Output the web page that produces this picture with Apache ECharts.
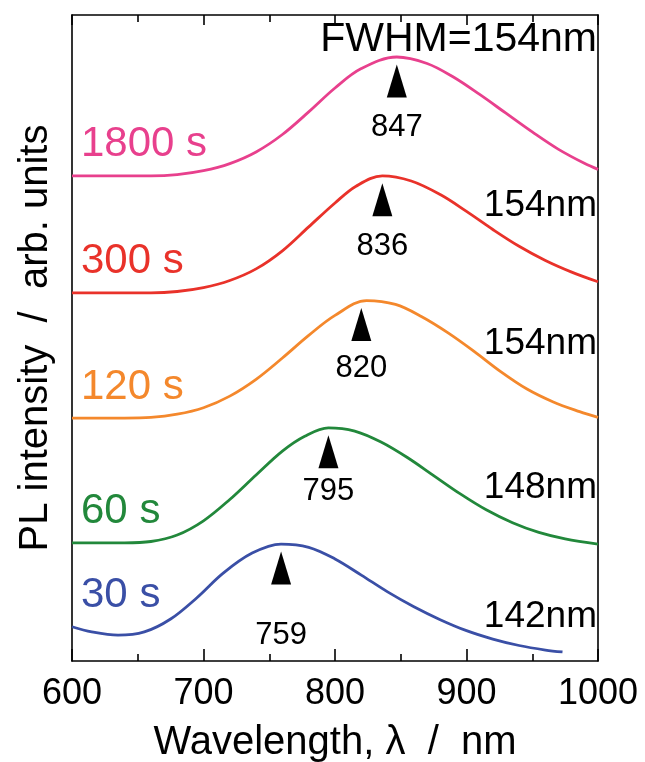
<!DOCTYPE html>
<html>
<head>
<meta charset="utf-8">
<script src="https://cdn.jsdelivr.net/npm/echarts@6/dist/echarts.min.js"></script>
<style>
  html, body { margin: 0; padding: 0; background: #ffffff; }
  #chart { width: 645px; height: 762px; }
</style>
</head>
<body>
<div id="chart"></div>
<script>
// PL spectra after different treatment times, offset vertically (arb. units)
const times = ['30 s', '60 s', '120 s', '300 s', '1800 s'];

const spectrum30s = [
  [600, 0.53], [615, 0.45], [635, 0.40], [655, 0.45], [675, 0.65], [695, 0.98],
  [715, 1.36], [737, 1.67], [759, 1.81], [780, 1.76], [800, 1.58], [820, 1.33],
  [840, 1.07], [860, 0.84], [880, 0.64], [900, 0.47], [920, 0.34], [940, 0.24],
  [960, 0.17], [973, 0.14]
];
const spectrum60s = [
  [600, 1.83], [640, 1.83], [660, 1.85], [680, 1.95], [700, 2.17], [720, 2.50],
  [740, 2.88], [760, 3.25], [777, 3.48], [795, 3.61], [815, 3.56], [835, 3.39],
  [855, 3.15], [875, 2.87], [895, 2.59], [915, 2.34], [935, 2.14], [955, 1.99],
  [975, 1.89], [1000, 1.81]
];
const spectrum120s = [
  [600, 3.76], [640, 3.76], [660, 3.77], [680, 3.82], [700, 3.92], [720, 4.10],
  [740, 4.36], [760, 4.69], [780, 5.04], [800, 5.35], [824, 5.58], [846, 5.52],
  [866, 5.33], [886, 5.08], [906, 4.79], [926, 4.48], [946, 4.21], [966, 4.01],
  [986, 3.86], [1000, 3.77]
];
const spectrum300s = [
  [600, 5.70], [640, 5.70], [660, 5.70], [680, 5.72], [700, 5.78], [720, 5.89],
  [740, 6.07], [760, 6.35], [780, 6.72], [800, 7.09], [816, 7.35], [836, 7.51],
  [858, 7.43], [880, 7.22], [900, 6.96], [920, 6.68], [940, 6.42], [960, 6.20],
  [980, 6.02], [1000, 5.87]
];
const spectrum1800s = [
  [600, 7.51], [640, 7.51], [660, 7.51], [680, 7.53], [700, 7.59], [720, 7.70],
  [740, 7.88], [760, 8.15], [780, 8.50], [800, 8.87], [820, 9.17], [847, 9.35],
  [870, 9.25], [890, 9.04], [910, 8.77], [930, 8.48], [950, 8.19], [970, 7.92],
  [990, 7.70], [1000, 7.61]
];

const peakWavelengths = [759, 795, 820, 836, 847];
const fwhmLabels = ['142nm', '148nm', '154nm', '154nm', 'FWHM=154nm'];
const xTicks = [600, 700, 800, 900, 1000];

const spectra = [spectrum30s, spectrum60s, spectrum120s, spectrum300s, spectrum1800s];
const lineColors = ['#3a4fa6', '#22883b', '#f4882c', '#e9322a', '#e8408d'];
const FONT = '"Liberation Sans", Arial, sans-serif';

const chart = echarts.init(document.getElementById('chart'), null, { renderer: 'canvas' });

const lineSeries = spectra.map((d, i) => ({
  name: times[i],
  type: 'line',
  data: d,
  smooth: 0.35,
  showSymbol: false,
  lineStyle: { color: lineColors[i], width: 2.8 },
  z: 2
}));

// arrowheads sit just under each curve's maximum, value printed beneath
const labelGap = [35, 8, 12, 15, 14];
const peakMarks = peakWavelengths.map((wl, i) => {
  const top = Math.max(...spectra[i].map(p => p[1]));
  return { value: [wl, top], label: { distance: labelGap[i] } };
});

const blackLine = { color: '#000', width: 1.6 };

chart.setOption({
  animation: false,
  backgroundColor: '#ffffff',
  grid: {
    left: 72, right: 47, top: 15, bottom: 101,
    containLabel: false, outerBoundsMode: 'none'
  },
  xAxis: [
    {
      type: 'value', min: 600, max: 1000, interval: 100, position: 'bottom',
      axisLine: { show: true, onZero: false, lineStyle: blackLine },
      axisTick: { show: true, inside: true, length: 12, lineStyle: blackLine },
      minorTick: { show: true, splitNumber: 2, length: 7, lineStyle: blackLine },
      splitLine: { show: false },
      axisLabel: {
        show: true, margin: 15, color: '#000', fontSize: 36, fontFamily: FONT,
        formatter: v => (xTicks.includes(v) ? String(v) : '')
      },
      name: 'Wavelength, \u03bb  /  nm',
      nameLocation: 'middle', nameGap: 62,
      nameTextStyle: { color: '#000', fontSize: 40, fontFamily: FONT }
    },
    {
      type: 'value', min: 600, max: 1000, interval: 100, position: 'top',
      axisLine: { show: true, onZero: false, lineStyle: blackLine },
      axisTick: { show: true, inside: true, length: 10, lineStyle: blackLine },
      minorTick: { show: true, splitNumber: 2, length: 7, lineStyle: blackLine },
      splitLine: { show: false },
      axisLabel: { show: false }
    }
  ],
  yAxis: [
    {
      type: 'value', min: 0, max: 10, position: 'left',
      axisLine: { show: true, onZero: false, lineStyle: blackLine },
      axisTick: { show: false }, axisLabel: { show: false }, splitLine: { show: false },
      name: 'PL intensity  /  arb. units',
      nameLocation: 'middle', nameGap: 16, nameRotate: 90,
      nameTextStyle: { color: '#000', fontSize: 40, fontFamily: FONT }
    },
    {
      type: 'value', min: 0, max: 10, position: 'right',
      axisLine: { show: true, onZero: false, lineStyle: blackLine },
      axisTick: { show: false }, axisLabel: { show: false }, splitLine: { show: false }
    }
  ],
  series: [
    ...lineSeries,
    {
      name: 'peak',
      type: 'scatter',
      data: peakMarks,
      symbol: 'triangle',
      symbolSize: [20, 33],
      symbolOffset: [0, 24],
      itemStyle: { color: '#000', opacity: 1 },
      label: {
        show: true, position: 'bottom', color: '#000', opacity: 1,
        fontSize: 31, fontFamily: FONT,
        formatter: p => String(peakWavelengths[p.dataIndex])
      },
      emphasis: { disabled: true },
      z: 5
    }
  ]
});

// text annotations: treatment time at the left of each trace, FWHM at the right
const graphics = [];
spectra.forEach((d, i) => {
  const pt = chart.convertToPixel({ xAxisIndex: 0, yAxisIndex: 0 }, d[0]);
  graphics.push({
    type: 'text',
    x: pt[0] + 9, y: pt[1] - 31,
    style: {
      text: times[i], fill: lineColors[i], font: '42px ' + FONT,
      textAlign: 'left', textVerticalAlign: 'middle'
    },
    z: 10
  });
});
const fwhmY = [617, 488, 344, 206, 40];
fwhmLabels.forEach((t, i) => {
  graphics.push({
    type: 'text',
    x: 597, y: fwhmY[i],
    style: {
      text: t, fill: '#000', font: (i === 4 ? 41 : 37) + 'px ' + FONT,
      textAlign: 'right', textVerticalAlign: 'middle'
    },
    z: 10
  });
});
chart.setOption({ graphic: graphics });
</script>
</body>
</html>
